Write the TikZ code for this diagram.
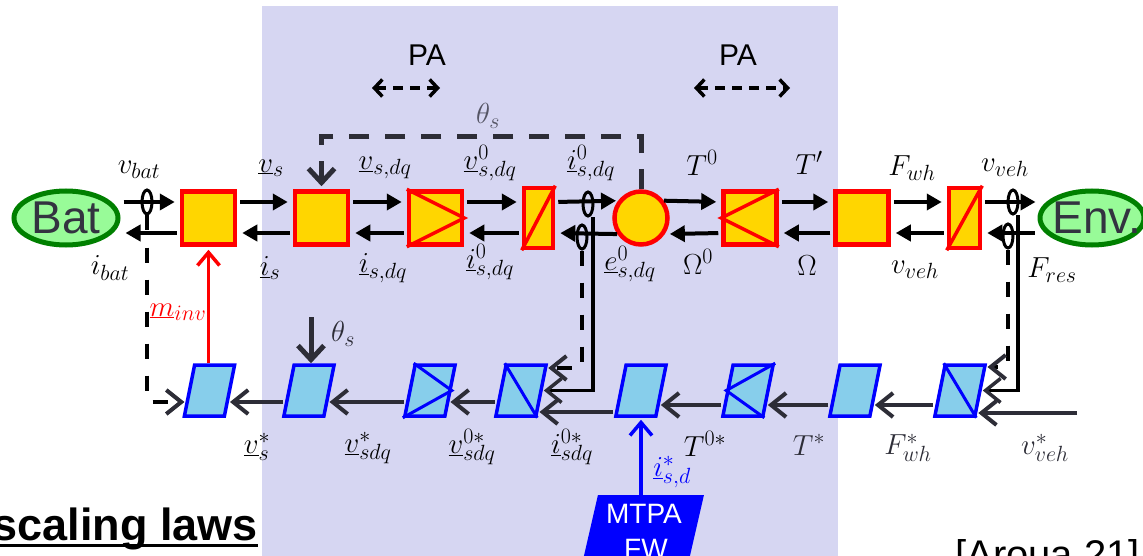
\RequirePackage{fix-cm}
\documentclass[tikz,border=0pt]{standalone}
\usepackage{fontspec}
\newfontfamily\arial{Liberation Sans}
\usetikzlibrary{arrows.meta,shapes.geometric}
\DeclareMathSizes{29}{29}{22}{17}
\definecolor{bgl}{RGB}{214,214,242}
\definecolor{gold}{RGB}{255,214,0}
\definecolor{skyb}{RGB}{135,206,235}
\definecolor{dk}{RGB}{45,45,55}
\definecolor{grn}{RGB}{0,128,0}
\definecolor{lgrn}{RGB}{152,251,152}
\definecolor{txt}{RGB}{51,51,64}
\definecolor{tgray}{RGB}{85,85,100}
\newcommand\pbx[2]{\begin{scope}[shift={(#2,390.5)}]\node[pbox] (#1) at (0,0) {};\end{scope}}
\begin{document}
\begin{tikzpicture}[x=1pt,y=-1pt,
  fwd/.style={line width=4pt, shorten >=5pt, shorten <=3pt, -{Triangle[length=15pt,width=16pt]}},
  chain/.style={dk, line width=4pt, shorten >=1pt, shorten <=2pt, -{Straight Barb[length=15pt,width=24pt]}},
  measd/.style={black, line width=4pt, dash pattern=on 15pt off 17pt, shorten >=1pt, -{Straight Barb[length=15pt,width=24pt,color=dk]}},
  meass/.style={black, line width=3.5pt, shorten >=1pt, -{Straight Barb[length=15pt,width=24pt,color=dk]}},
  thloop/.style={dk, line width=5pt, dash pattern=on 20pt off 16pt, shorten >=3pt, -{Straight Barb[length=14pt,width=26pt]}},
  thin/.style={dk, line width=5pt, -{Straight Barb[length=14pt,width=26pt]}},
  redarr/.style={red, line width=3.5pt, shorten >=3pt, -{Straight Barb[length=13pt,width=22pt]}},
  bluearr/.style={blue, line width=3.5pt, shorten >=2pt, -{Straight Barb[length=13pt,width=22pt]}},
  paarr/.style={black, line width=3.5pt, dash pattern=on 10pt off 7pt, {Straight Barb[length=8pt,width=17pt]}-{Straight Barb[length=8pt,width=17pt]}},
  rbox/.style={draw=red, fill=gold, line width=4.5pt, minimum width=53pt, minimum height=53pt, inner sep=0pt},
  rnar/.style={rbox, minimum width=29pt, minimum height=60pt},
  rcirc/.style={circle, draw=red, fill=gold, line width=4.5pt, minimum size=53pt, inner sep=0pt},
  rline/.style={red, line width=3.5pt},
  pbox/.style={draw=blue, fill=skyb, line width=3.5pt, minimum width=40pt, minimum height=51pt, inner sep=0pt, xslant=0.2, transform shape},
  bline/.style={blue, line width=3pt},
  ellg/.style={ellipse, draw=grn, fill=lgrn, line width=5pt, minimum width=104pt, minimum height=54pt, inner sep=0pt, text=txt, font=\arial\fontsize{46}{50}\selectfont},
  oval/.style={ellipse, draw=black, line width=3pt, minimum width=10pt, minimum height=24pt, inner sep=0pt},
  lab/.style={inner sep=0pt, font=\fontsize{29}{34}\selectfont},
  atxt/.style={inner sep=0pt, font=\arial\fontsize{30}{34}\selectfont},
  mtxt/.style={inner sep=0pt, text=white, font=\arial\fontsize{28}{32}\selectfont}
]
\useasboundingbox (0,0) rectangle (1143,556);
\clip (0,0) rectangle (1143,556);
\fill[white] (0,0) rectangle (1143,556);
\fill[bgl] (262,6) rectangle (838,560);

% ---------- top row ----------
\node[ellg] (bat) at (66,218) {Bat};
\node[ellg, label={[inner sep=0pt, xshift=5pt, text=txt, font=\arial\fontsize{46}{50}\selectfont]center:Env.}] (env) at (1092,218) {};
\node[rbox] (r1) at (208.5,218) {};
\node[rbox] (r2) at (321.5,218) {};
\node[rbox] (r3) at (435.5,218) {};
\node[rnar] (r4) at (538.5,218) {};
\node[rcirc] (circ) at (641,218) {};
\node[rbox] (r5) at (750,218) {};
\node[rbox] (r6) at (862,218) {};
\node[rnar, minimum width=31pt] (r7) at (964.5,218) {};
\draw[rline] (r3.north west) -- (r3.east) -- (r3.south west);
\draw[rline] (r4.south west) -- (r4.north east);
\draw[rline] (r5.north east) -- (r5.west) -- (r5.south east);
\draw[rline] (r7.south west) -- (r7.north east);

\draw[fwd] ([yshift=16pt]bat.east) -- ([yshift=16pt]r1.west);
\draw[fwd] ([yshift=-15pt]r1.west) -- ([yshift=-15pt]bat.east);
\draw[fwd] ([yshift=16pt]r1.east) -- ([yshift=16pt]r2.west);
\draw[fwd] ([yshift=-15pt]r2.west) -- ([yshift=-15pt]r1.east);
\draw[fwd] ([yshift=16pt]r2.east) -- ([yshift=16pt]r3.west);
\draw[fwd] ([yshift=-15pt]r3.west) -- ([yshift=-15pt]r2.east);
\draw[fwd] ([yshift=16pt]r3.east) -- ([yshift=16pt]r4.west);
\draw[fwd] ([yshift=-15pt]r4.west) -- ([yshift=-15pt]r3.east);
\draw[fwd, shorten >=2pt] ([yshift=16pt]r4.east) -- (circ.143);
\draw[fwd, shorten <=0pt] (circ.214) -- ([yshift=-15pt]r4.east);
\draw[fwd, shorten <=0pt] (circ.37) -- ([yshift=16pt]r5.west);
\draw[fwd] ([yshift=-15pt]r5.west) -- (circ.326);
\draw[fwd] ([yshift=16pt]r5.east) -- ([yshift=16pt]r6.west);
\draw[fwd] ([yshift=-15pt]r6.west) -- ([yshift=-15pt]r5.east);
\draw[fwd] ([yshift=16pt]r6.east) -- ([yshift=16pt]r7.west);
\draw[fwd] ([yshift=-15pt]r7.west) -- ([yshift=-15pt]r6.east);
\draw[fwd, shorten >=2pt] ([yshift=16pt]r7.east) -- ([yshift=16pt]env.west);
\draw[fwd] ([yshift=-15pt]env.west) -- ([yshift=-15pt]r7.east);

% theta_s loop
\coordinate (thc) at (480,137);
\draw[thloop] (circ.north) |- (thc) -| (r2.north);

% PA arrows
\coordinate (pa1) at (372,88);
\coordinate (pa2) at (440,88);
\coordinate (pa3) at (694,88);
\coordinate (pa4) at (790,88);
\draw[paarr] (pa1) -- (pa2);
\draw[paarr] (pa3) -- (pa4);
\node[atxt] (pat1) at (427,55) {PA};
\node[atxt] (pat2) at (738,55) {PA};

% ---------- bottom row ----------
\pbx{b1}{209.5}
\pbx{b2}{309}
\pbx{b3}{430}
\pbx{b4}{521}
\pbx{b5}{641}
\pbx{b6}{748}
\pbx{b7}{855}
\pbx{b8}{960}
\draw[bline] (b3.north west) -- (b3.east) -- (b3.south west);
\draw[bline] (b4.north west) -- (b4.south east);
\draw[bline] (b6.north east) -- (b6.west) -- (b6.south east);
\draw[bline] (b8.north west) -- (b8.south east);

\draw[chain] ([xshift=-2.3pt,yshift=-11.5pt]b2.west) -- ([xshift=-2.3pt,yshift=-11.5pt]b1.east);
\draw[chain] ([xshift=-2.3pt,yshift=-11.5pt]b3.west) -- ([xshift=-2.3pt,yshift=-11.5pt]b2.east);
\draw[chain] ([xshift=-2.3pt,yshift=-11.5pt]b4.west) -- ([xshift=-2.3pt,yshift=-11.5pt]b3.east);
\draw[chain] ([xshift=-4.3pt,yshift=-21.5pt]b5.west) -- ([xshift=-4.3pt,yshift=-21.5pt]b4.east);
\draw[chain] ([xshift=-2.9pt,yshift=-14.5pt]b6.west) -- ([xshift=-2.9pt,yshift=-14.5pt]b5.east);
\draw[chain] ([xshift=-2.9pt,yshift=-14.5pt]b7.west) -- ([xshift=-2.9pt,yshift=-14.5pt]b6.east);
\draw[chain] ([xshift=-2.9pt,yshift=-14.5pt]b8.west) -- ([xshift=-2.9pt,yshift=-14.5pt]b7.east);
\coordinate (vin) at (1077,413);
\draw[chain, shorten <=0pt] (vin) -- ([xshift=-4.5pt,yshift=-22.5pt]b8.east);

% measurement ovals and lines
\node[oval] (ovbat) at (147,202) {};
\node[oval] (ovi) at (588,204) {};
\node[oval] (ove) at (582,237) {};
\node[oval] (ovv) at (1013,202) {};
\node[oval] (ovf) at (1008,236) {};
\draw[measd] (ovbat.south) |- ([xshift=-2.3pt,yshift=-11.5pt]b1.west);
\draw[meass] ([xshift=5pt]ovi.south) |- (b4.east);
\draw[measd] (ove.south) |- ([xshift=4.5pt,yshift=22.5pt]b4.east);
\draw[meass] ([xshift=5pt]ovv.south) |- (b8.east);
\draw[measd] (ovf.south) |- ([xshift=4.7pt,yshift=23.5pt]b8.east);

% inputs
\draw[redarr] (r1.south |- b1.north) -- (r1.south);
\coordinate (thb) at (311,317);
\draw[thin] (thb) -- (thb |- b2.north);
\begin{scope}[shift={(636,560)}]
\node[fill=blue, minimum width=106pt, minimum height=130pt, inner sep=0pt, xslant=0.23, transform shape] (mtpa) at (0,0) {};
\end{scope}
\node[mtxt, anchor=base] (mt1) at (644,523) {MTPA};
\node[mtxt, anchor=base] (mt2) at (646,558) {FW};
\draw[bluearr] ([xshift=-10pt]mtpa.north) -- ([xshift=-10pt]mtpa.north |- b5.south);

% ---------- labels ----------
\node[lab] (l1) at (139,170) {$v_{bat}$};
\node[lab] (l2) at (110,268) {$i_{bat}$};
\node[lab] (l3) at (271,168) {$\underline{v}_{s}$};
\node[lab] (l4) at (270,268) {$\underline{i}_{s}$};
\node[lab] (l5) at (385,168) {$\underline{v}_{s,dq}$};
\node[lab] (l6) at (383,268) {$\underline{i}_{s,dq}$};
\node[lab] (l7) at (490,163) {$\underline{v}^{0}_{s,dq}$};
\node[lab] (l8) at (490,262) {$\underline{i}^{0}_{s,dq}$};
\node[lab] (l9) at (591,163) {$\underline{i}^{0}_{s,dq}$};
\node[lab] (l10) at (630,264) {$\underline{e}^{0}_{s,dq}$};
\node[lab] (l11) at (702,163) {$T^{0}$};
\node[lab] (l12) at (698,262) {$\Omega^{0}$};
\node[lab] (l13) at (809,163) {$T'$};
\node[lab] (l14) at (807,266) {$\Omega$};
\node[lab] (l15) at (912,168) {$F_{wh}$};
\node[lab] (l16) at (915,270) {$v_{veh}$};
\node[lab] (l17) at (1005,168) {$v_{veh}$};
\node[lab] (l18) at (1052,270) {$F_{res}$};
\node[lab, text=tgray] (l19) at (488,116) {$\theta_s$};
\node[lab, text=dk] (l20) at (343,334) {$\theta_s$};
\node[lab, text=red] (l21) at (178,312) {$\underline{m}_{inv}$};
\node[lab, text=blue] (l22) at (672,472) {$\underline{i}^{*}_{s,d}$};
\node[lab] (l23) at (257,447) {$\underline{v}^{*}_{s}$};
\node[lab] (l24) at (368,448) {$\underline{v}^{*}_{sdq}$};
\node[lab] (l25) at (472,447) {$\underline{v}^{0*}_{sdq}$};
\node[lab] (l26) at (572,447) {$\underline{i}^{0*}_{sdq}$};
\node[lab] (l27) at (705,444) {$T^{0*}$};
\node[lab, text=dk] (l28) at (809,445) {$T^{*}$};
\node[lab, text=dk] (l29) at (908,448) {$F^{*}_{wh}$};
\node[lab, text=dk] (l30) at (1045,448) {$v^{*}_{veh}$};

% footer texts
\node[anchor=base east, inner sep=0pt, font=\arial\bfseries\fontsize{45}{50}\selectfont] (sl) at (258,540) {\setbox0\hbox{scaling laws}\rlap{\rule[-7pt]{\wd0}{3pt}}\box0};
\node[anchor=base west, inner sep=0pt, font=\arial\fontsize{40}{48}\selectfont] (ref) at (955,568) {[Aroua 21]};
\end{tikzpicture}
\end{document}
